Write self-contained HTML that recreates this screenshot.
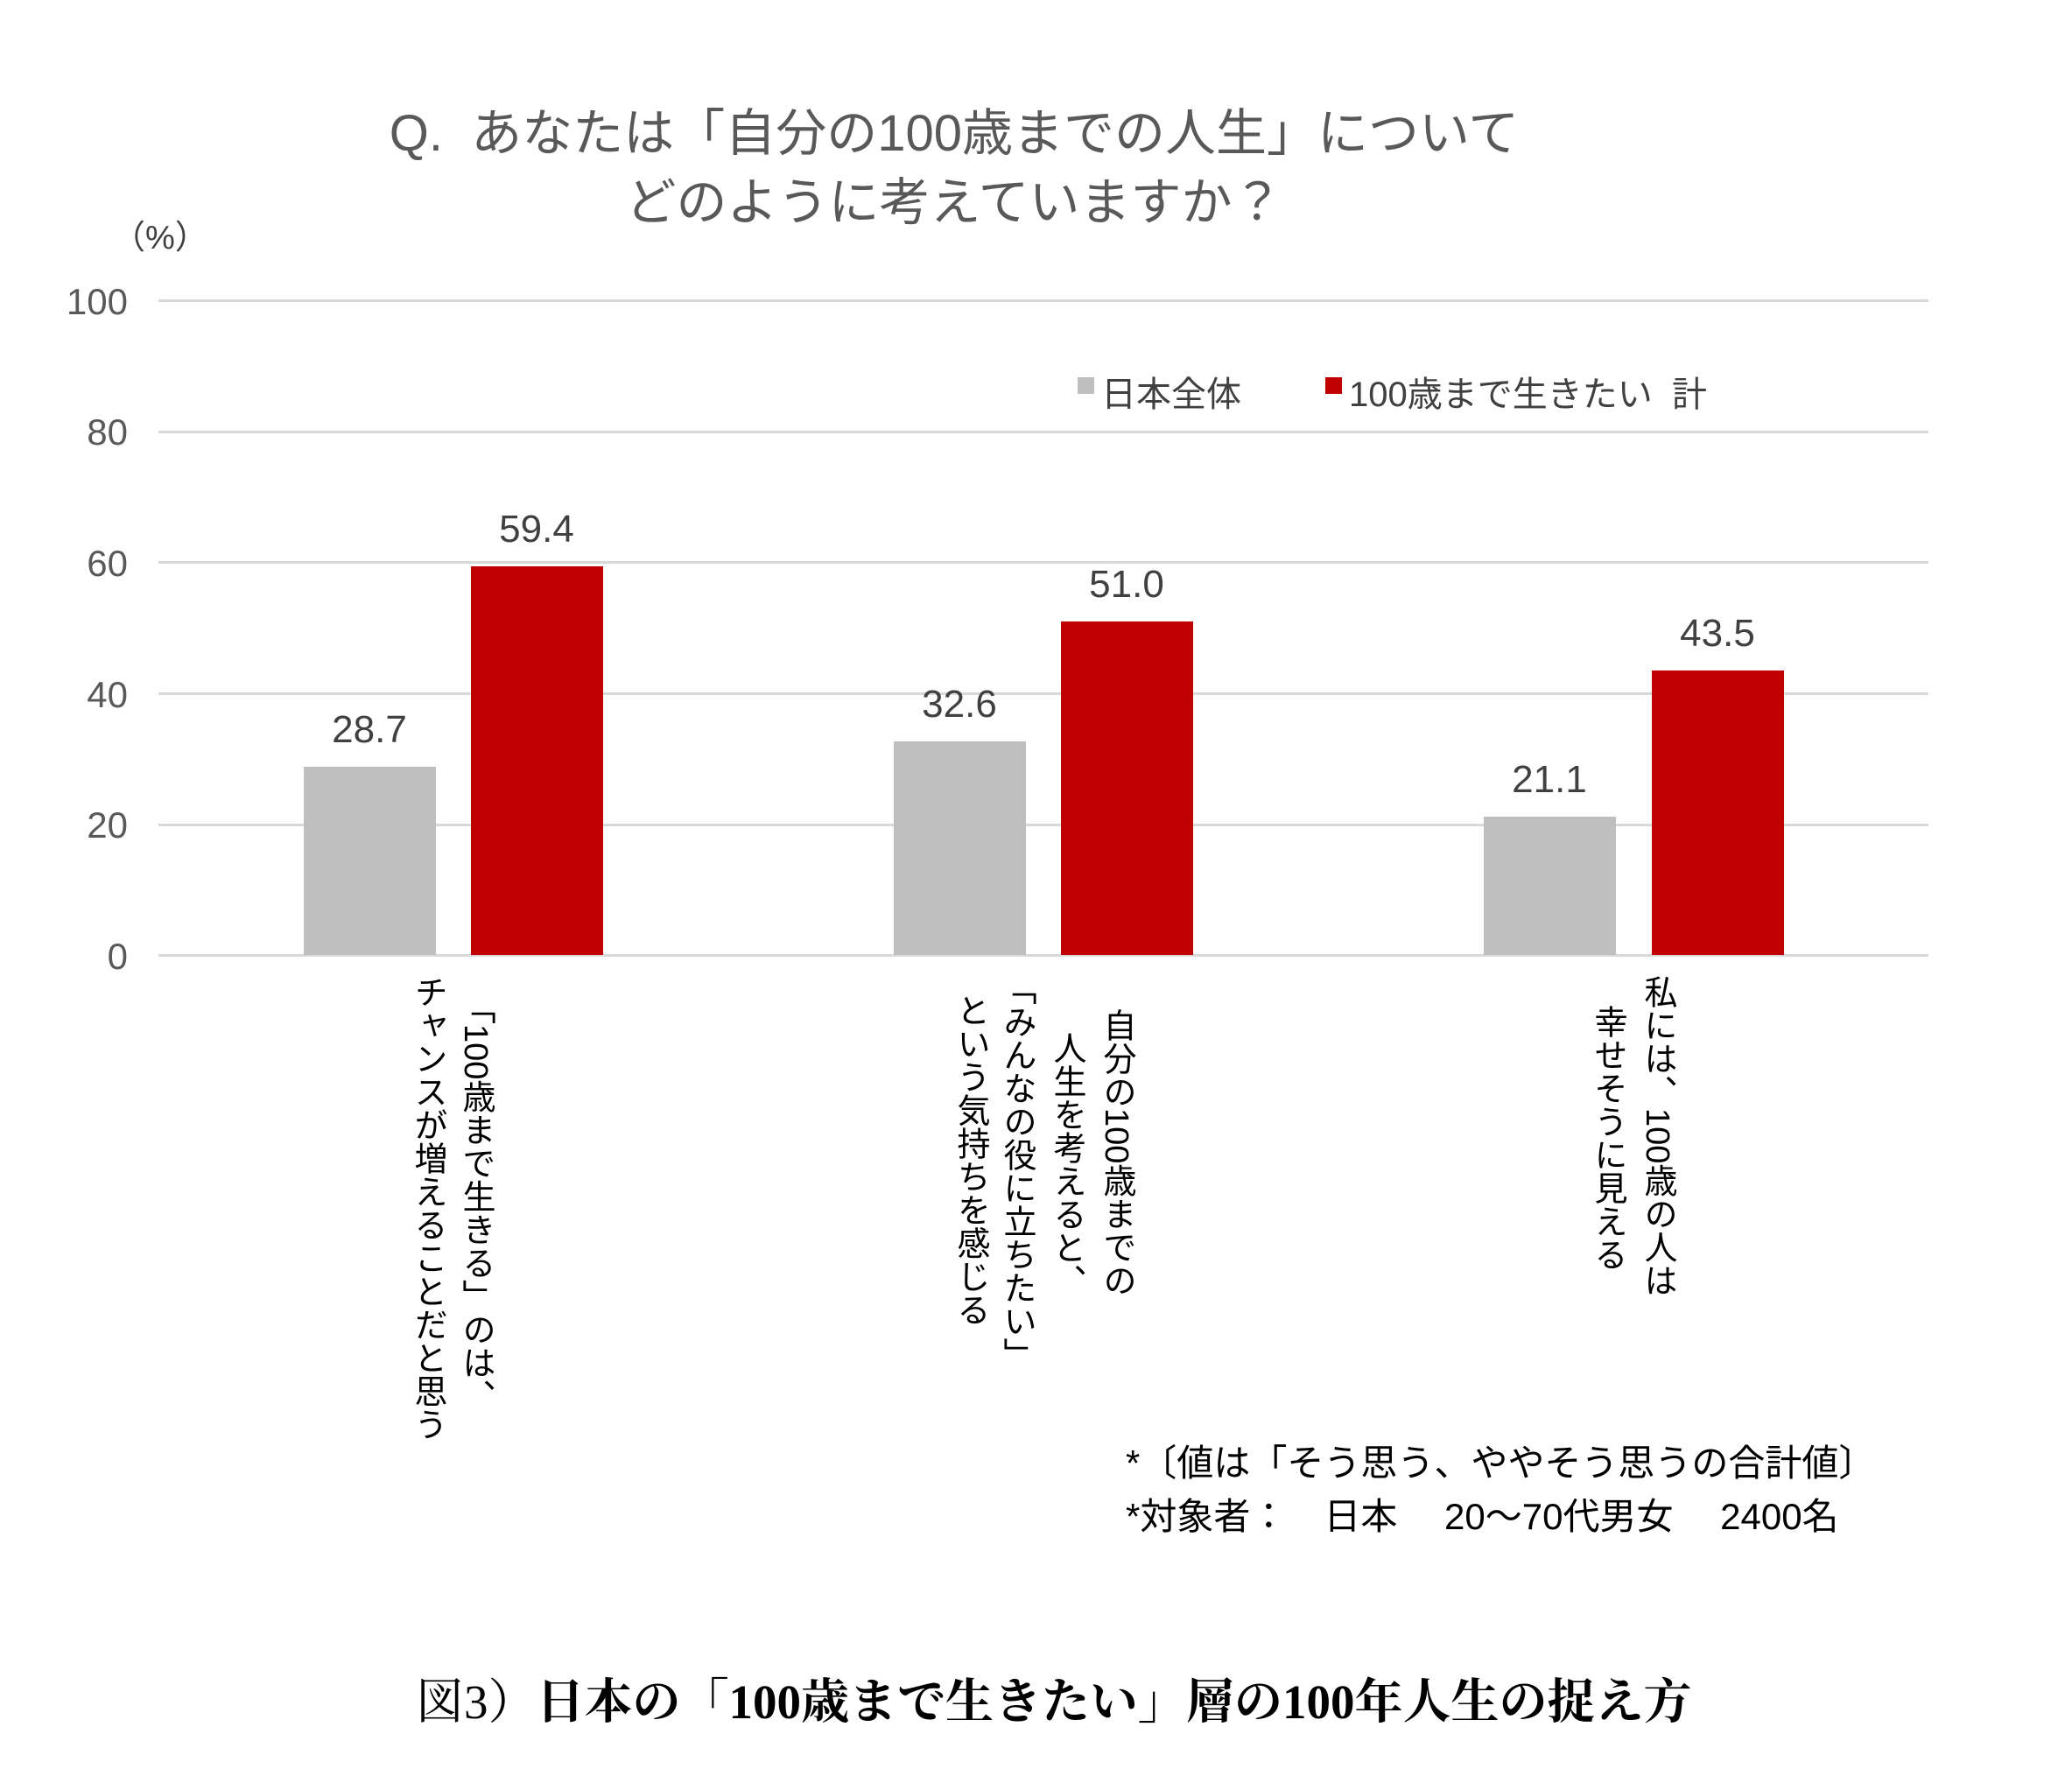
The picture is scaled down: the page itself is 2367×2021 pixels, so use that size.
<!DOCTYPE html>
<html><head><meta charset="utf-8"><style>
body{margin:0;width:2367px;height:2021px;background:#fff;position:relative;overflow:hidden;font-family:"Liberation Sans","Noto Sans CJK JP",sans-serif;}
.a{position:absolute;white-space:nowrap;}
.g{position:absolute;left:181px;width:2022px;height:3px;background:#d9d9d9;}
.t{position:absolute;width:100px;left:46px;text-align:right;font-size:42px;color:#595959;line-height:1;}
.b{position:absolute;width:151px;}
.v{position:absolute;writing-mode:vertical-rl;font-size:38px;color:#000;line-height:1;white-space:nowrap;transform:translateX(-50%);}
.d{position:absolute;font-size:44px;color:#404040;width:200px;text-align:center;line-height:1;}
</style></head><body>
<div class="a" style="left:0;width:2180px;text-align:center;top:113px;font-size:58px;color:#595959;line-height:79px;">Q.&nbsp; あなたは「自分の100歳までの人生」について<br>どのように考えていますか？</div>
<div class="a" style="left:128px;top:240px;font-size:38px;color:#404040;">（%）</div>

<div class="g" style="top:342px"></div>
<div class="g" style="top:492px"></div>
<div class="g" style="top:641px"></div>
<div class="g" style="top:791px"></div>
<div class="g" style="top:941px"></div>
<div class="g" style="top:1090px"></div>
<div class="t" style="top:324px">100</div>
<div class="t" style="top:473px">80</div>
<div class="t" style="top:623px">60</div>
<div class="t" style="top:773px">40</div>
<div class="t" style="top:922px">20</div>
<div class="t" style="top:1072px">0</div>

<div class="a" style="left:1231px;top:431px;width:19px;height:19px;background:#bfbfbf"></div>
<div class="a" style="left:1258px;top:418px;font-size:40px;color:#404040;">日本全体</div>
<div class="a" style="left:1514px;top:431px;width:19px;height:19px;background:#c00000"></div>
<div class="a" style="left:1541px;top:418px;font-size:40px;color:#404040;">100歳まで生きたい&nbsp; 計</div>

<div class="b" style="left:347px;top:876px;height:215px;background:#bfbfbf"></div>
<div class="b" style="left:538px;top:647px;height:444px;background:#c00000"></div>
<div class="b" style="left:1021px;top:847px;height:244px;background:#bfbfbf"></div>
<div class="b" style="left:1212px;top:710px;height:381px;background:#c00000"></div>
<div class="b" style="left:1695px;top:933px;height:158px;background:#bfbfbf"></div>
<div class="b" style="left:1887px;top:766px;height:325px;background:#c00000"></div>

<div class="d" style="left:322px;top:812px">28.7</div>
<div class="d" style="left:513px;top:583px">59.4</div>
<div class="d" style="left:996px;top:783px">32.6</div>
<div class="d" style="left:1187px;top:646px">51.0</div>
<div class="d" style="left:1670px;top:869px">21.1</div>
<div class="d" style="left:1862px;top:702px">43.5</div>

<div class="v" style="left:543px;top:1132px">「100歳まで生きる」のは、</div>
<div class="v" style="left:488px;top:1114px">チャンスが増えることだと思う</div>
<div class="v" style="left:1275px;top:1152px">自分の100歳までの</div>
<div class="v" style="left:1218px;top:1178px">人生を考えると、</div>
<div class="v" style="left:1161px;top:1110px">「みんなの役に立ちたい」</div>
<div class="v" style="left:1108px;top:1135px">という気持ちを感じる</div>
<div class="v" style="left:1893px;top:1114px">私には、100歳の人は</div>
<div class="v" style="left:1836px;top:1148px">幸せそうに見える</div>

<div class="a" style="left:1286px;top:1641px;font-size:42px;line-height:61px;color:#000;">*〔値は「そう思う、ややそう思うの合計値〕<br>*対象者：　日本　 20～70代男女　 2400名</div>

<div class="a" style="left:475px;top:1900px;font-size:55px;color:#000;font-family:'Liberation Serif','Noto Serif CJK SC',serif;">図3）<b>日本の「100歳まで生きたい」層の100年人生の捉え方</b></div>
</body></html>
